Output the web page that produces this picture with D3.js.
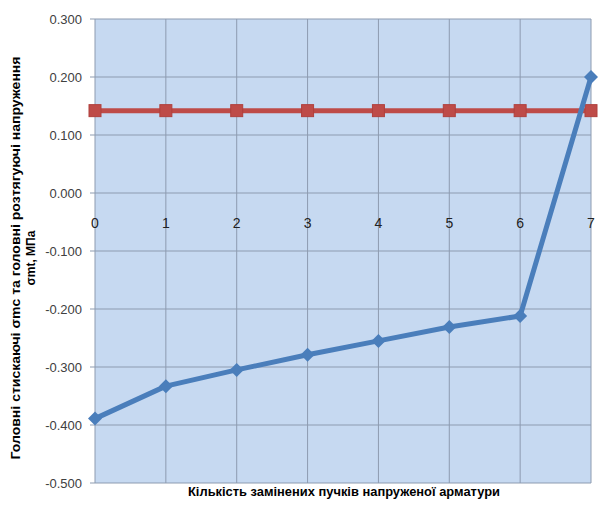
<!DOCTYPE html>
<html><head><meta charset="utf-8">
<script src="https://cdn.jsdelivr.net/npm/d3@7"></script>
<style>body{margin:0;background:#fff;}svg{display:block;}</style>
</head><body>
<svg id="c" width="604" height="505"></svg>
<script>
const categories = [0,1,2,3,4,5,6,7];
const compressive = [-0.389,-0.333,-0.305,-0.279,-0.255,-0.231,-0.212,0.200];
const tensile = [0.142,0.142,0.142,0.142,0.142,0.142,0.142,0.142];
const yTicks = [0.3,0.2,0.1,0.0,-0.1,-0.2,-0.3,-0.4,-0.5];
const xTitle = "Кількість замінених пучків напруженої арматури";
const yTitle1 = "Головні стискаючі σmc та головні розтягуючі напруження";
const yTitle2 = "σmt, МПа";

const svg = d3.select("#c");
const L=95, R=591, T=19, B=483;
const x = d3.scaleLinear().domain([0,7]).range([L,R]);
const y = d3.scaleLinear().domain([-0.5,0.3]).range([B,T]);
const font = "'Liberation Sans', Arial, sans-serif";

svg.append("rect").attr("x",L).attr("y",T).attr("width",R-L).attr("height",B-T).attr("fill","#c6d9f1");

// gridlines
svg.append("g").selectAll("line").data(yTicks).join("line")
  .attr("x1",L-5).attr("x2",R).attr("y1",d=>y(d)).attr("y2",d=>y(d))
  .attr("stroke","#8d9bb0").attr("stroke-width",1);
svg.append("g").selectAll("line").data(categories).join("line")
  .attr("x1",d=>x(d)).attr("x2",d=>x(d)).attr("y1",T).attr("y2",B)
  .attr("stroke","#8d9bb0").attr("stroke-width",1);

// y axis labels
svg.append("g").selectAll("text").data(yTicks).join("text")
  .attr("x",82).attr("y",d=>y(d)).attr("dy","0.35em").attr("text-anchor","end")
  .attr("font-family",font).attr("font-size",13).attr("fill","#404040")
  .text(d=>d3.format(".3f")(d).replace("−","-"));

// category labels
svg.append("g").selectAll("text").data(categories).join("text")
  .attr("x",d=>x(d)).attr("y",223).attr("dy","0.35em").attr("text-anchor","middle")
  .attr("font-family",font).attr("font-size",14).attr("fill","#222")
  .text(d=>d);

// series
const line = d3.line().x((d,i)=>x(categories[i])).y(d=>y(d));
svg.append("path").datum(tensile).attr("d",line).attr("fill","none")
  .attr("stroke","#be4b48").attr("stroke-width",5).attr("stroke-linejoin","round");
svg.append("g").selectAll("rect").data(tensile).join("rect")
  .attr("x",(d,i)=>x(categories[i])-6).attr("y",d=>y(d)-6).attr("width",12).attr("height",12)
  .attr("fill","#be4b48").attr("stroke","#b0403d").attr("stroke-width",1);

svg.append("path").datum(compressive).attr("d",line).attr("fill","none")
  .attr("stroke","#4a7ebb").attr("stroke-width",5).attr("stroke-linejoin","round");
svg.append("g").selectAll("path.m").data(compressive).join("path")
  .attr("transform",(d,i)=>`translate(${x(categories[i])},${y(d)})`)
  .attr("d","M0,-7L7,0L0,7L-7,0Z").attr("fill","#4a7ebb");

// titles
svg.append("text").attr("x",344).attr("y",496).attr("text-anchor","middle")
  .attr("font-family",font).attr("font-size",12).attr("font-weight","bold").attr("fill","#000")
  .attr("textLength",312).attr("lengthAdjust","spacingAndGlyphs").text(xTitle);
const yt = svg.append("g").attr("transform","translate(16,258) rotate(-90)");
yt.append("text").attr("x",0).attr("y",0).attr("dy","0.35em").attr("text-anchor","middle")
  .attr("font-family",font).attr("font-size",12).attr("font-weight","bold").attr("fill","#000")
  .attr("textLength",403).attr("lengthAdjust","spacingAndGlyphs").text(yTitle1);
yt.append("text").attr("x",0).attr("y",15).attr("dy","0.35em").attr("text-anchor","middle")
  .attr("font-family",font).attr("font-size",12).attr("font-weight","bold").attr("fill","#000")
  .text(yTitle2);
</script>
</body></html>
